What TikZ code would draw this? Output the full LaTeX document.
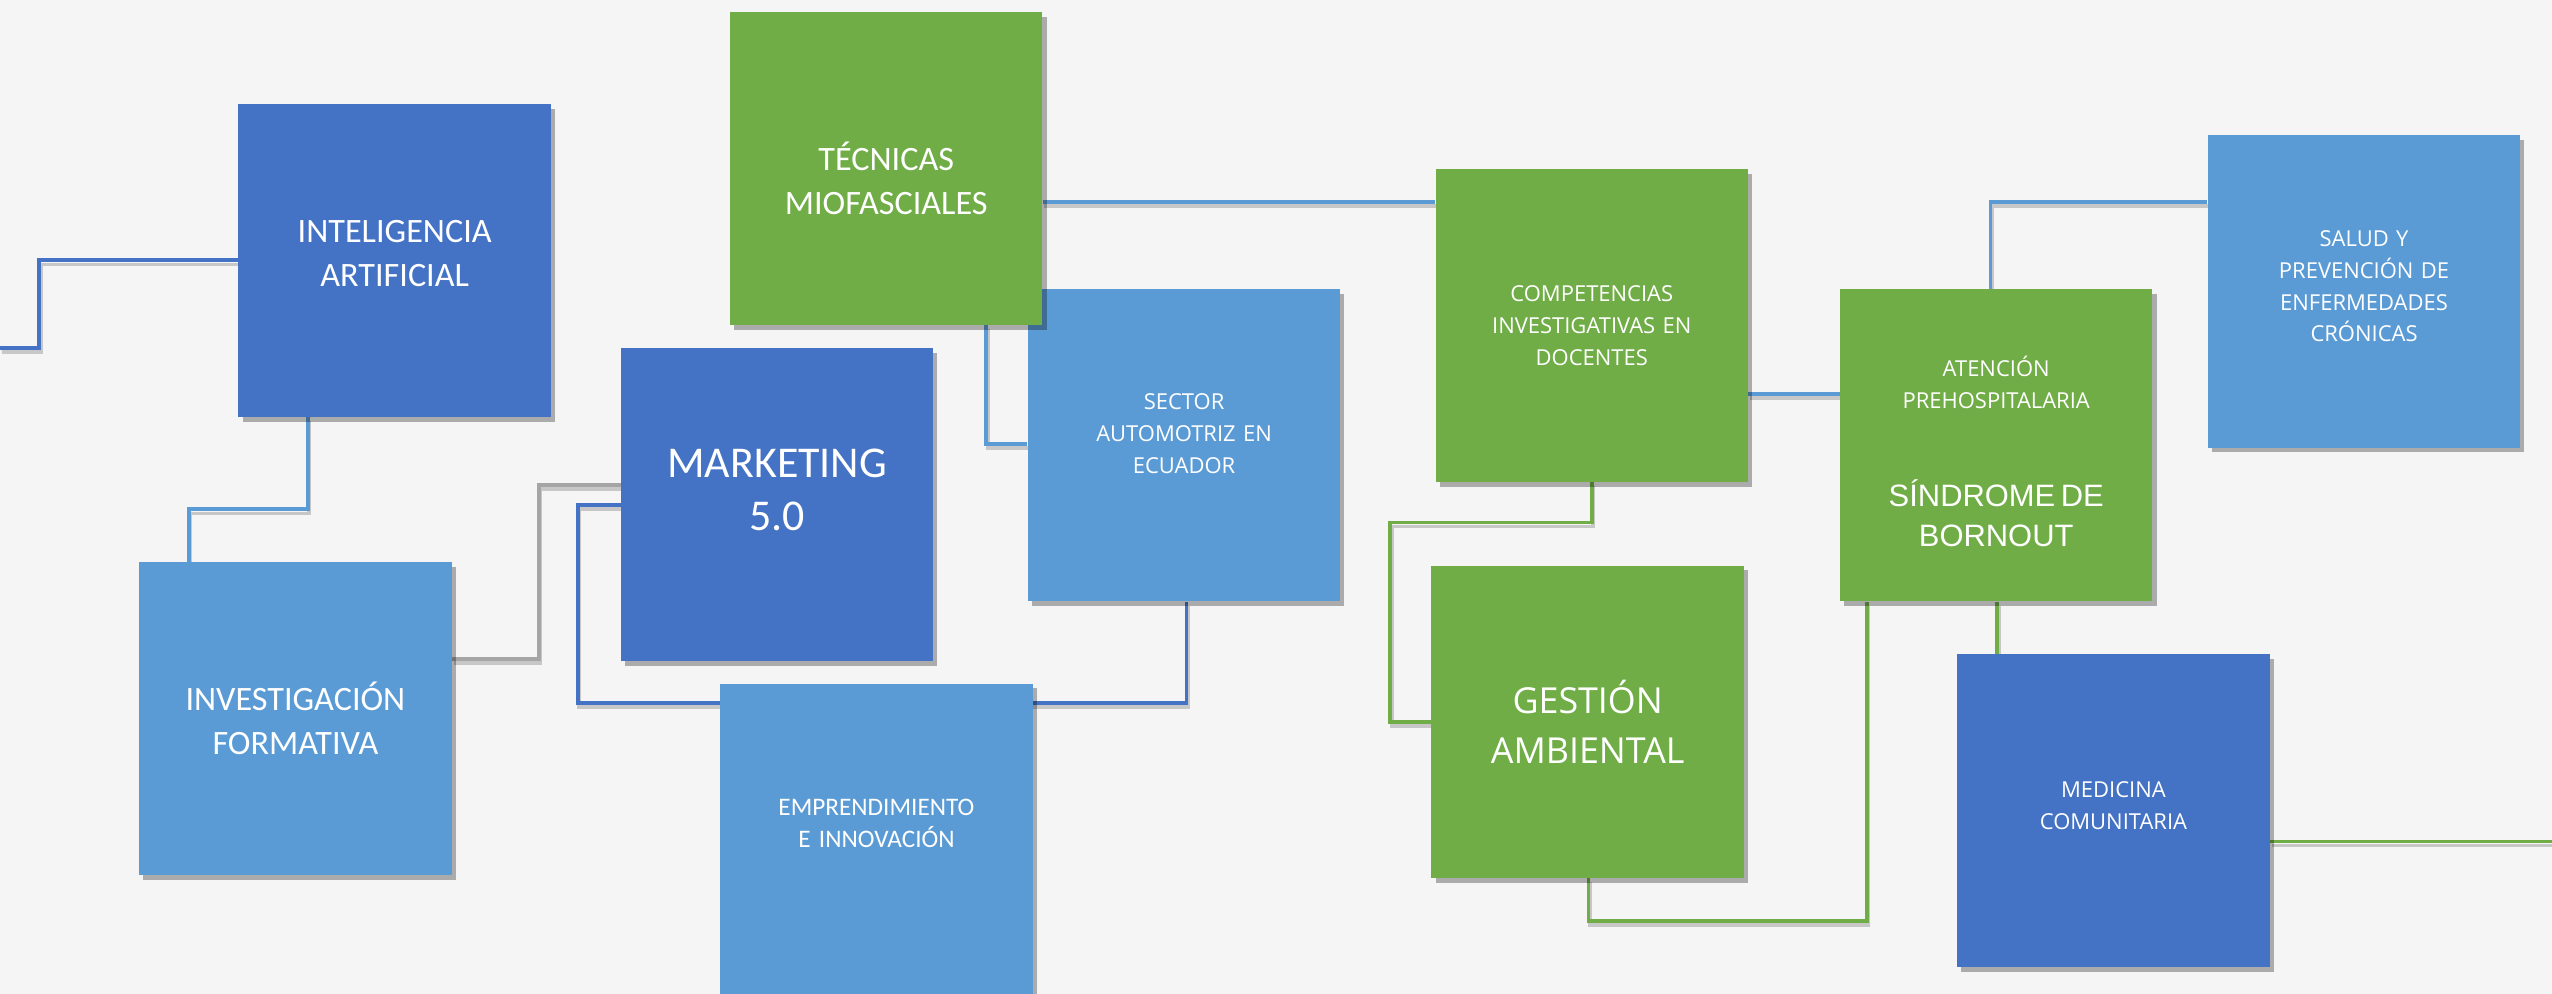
\documentclass[tikz,border=0pt]{standalone}
\usepackage{fontspec}
\setmainfont{Carlito}
\newfontfamily\opensans{Open Sans}
\newfontfamily\arialf{Liberation Sans}
\usepackage{xcolor}
\usepackage{tikz}
\usetikzlibrary{shadows}

\definecolor{azul}{HTML}{4472C4}
\definecolor{celeste}{HTML}{5B9BD5}
\definecolor{verde}{HTML}{70AD47}
\definecolor{gris}{HTML}{A5A5A5}
\definecolor{fondo}{HTML}{F5F5F5}

\pgfdeclarelayer{fondo}
\pgfdeclarelayer{cables}
\pgfsetlayers{fondo,cables,main}

% desplaza el texto dentro del bloque (negativo: hacia abajo)
\newcommand{\arriba}[1]{\par\vspace{#1}}

\begin{document}
\begin{tikzpicture}[
        x=1pt, y=-1pt,
        box/.style={rectangle, minimum width=192pt, minimum height=192pt, inner sep=0pt, text width=184pt, align=center, text=white,
            drop shadow={shadow xshift=2.5pt, shadow yshift=-3pt, opacity=0.3, fill=black}},
        grande/.style={font=\fontsize{21}{27}\selectfont},
        mayor/.style={font=\fontsize{27}{33}\selectfont},
        medio/.style={font=\fontsize{15.5}{20}\selectfont},
        chico/.style={font=\opensans\fontsize{13.5}{19.5}\selectfont},
        wire/.style={line width=2.4pt,
            preaction={draw=black!22, line width=2.4pt, transform canvas={xshift=1pt, yshift=-2.5pt}}}
    ]

    \begin{pgfonlayer}{fondo}
        \fill[fondo] (0,0) rectangle (1568,610.7);
    \end{pgfonlayer}
    \useasboundingbox (0,0) rectangle (1568,610.7);

    % bloques
    \node[box, fill=azul, grande] (ia) at (242.5,160) {INTELIGENCIA\\ARTIFICIAL\arriba{8pt}};
    \node[box, fill=celeste, chico] (sect) at (727.5,273.5) {SECTOR\\AUTOMOTRIZ EN\\ECUADOR\arriba{14pt}};
    \node[box, fill=verde, grande] (tec) at (544.5,103.5) {TÉCNICAS\\MIOFASCIALES\arriba{-12pt}};
    \node[box, fill=azul, mayor] (mkt) at (477.5,310) {MARKETING\\5.0\arriba{18pt}};
    \node[box, fill=celeste, grande] (invf) at (181.5,441.5) {INVESTIGACIÓN\\FORMATIVA};
    \node[box, fill=celeste, medio] (empr) at (538.5,516) {EMPRENDIMIENTO\\E INNOVACIÓN\arriba{20pt}};
    \node[box, fill=verde, chico] (comp) at (978,200) {COMPETENCIAS\\INVESTIGATIVAS EN\\DOCENTES};
    \node[box, fill=verde, font=\opensans\fontsize{22}{31}\selectfont] (gest) at (975.5,443.5) {GESTIÓN\\AMBIENTAL};
    \node[box, fill=verde] (aten) at (1226.5,273.5) {{\opensans\fontsize{13.5}{19.5}\selectfont ATENCIÓN\\PREHOSPITALARIA\par}\vspace{36pt}{\arialf\fontsize{19}{24.5}\selectfont SÍNDROME DE\\BORNOUT\par}\vspace{-8pt}};
    \node[box, fill=celeste, chico] (salud) at (1452.5,179) {SALUD Y\\PREVENCIÓN DE\\ENFERMEDADES\\CRÓNICAS\arriba{6pt}};
    \node[box, fill=azul, chico] (med) at (1298.5,498) {MEDICINA\\COMUNITARIA\arriba{6pt}};

    \coordinate (entrada) at (0,214);
    \coordinate (salida) at (1568,517);

    % conectores
    \begin{pgfonlayer}{cables}
        \draw[wire, azul] (entrada) -- (24,214) |- (ia.west);
        \draw[wire, celeste] (189,0 |- ia.south) |- (116,313) -- (116,0 |- invf.north);
        \draw[wire, gris] (0,405 -| invf.east) -| (331,298) -- (0,298 -| mkt.west);
        \draw[wire, azul] (0,310 -| mkt.west) -| (355,432) -| (729,0 |- sect.south);
        \draw[wire, celeste] (606,0 |- tec.south) |- (0,273 -| sect.west);
        \draw[wire, celeste] (0,124 -| tec.east) -- (0,124 -| comp.west);
        \draw[wire, celeste] (0,242 -| comp.east) -- (0,242 -| aten.west);
        \draw[wire, verde] (978,0 |- comp.south) |- (854,321) |- (gest.west);
        \draw[wire, verde] (976,0 |- gest.south) |- (1147,566) -- (1147,0 |- aten.south);
        \draw[wire, celeste] (1223,0 |- aten.north) |- (0,124 -| salud.west);
        \draw[wire, verde] (1227,0 |- aten.south) -- (1227,0 |- med.north);
        \draw[wire, verde] (0,517 -| med.east) -- (salida);
    \end{pgfonlayer}

\end{tikzpicture}
\end{document}
